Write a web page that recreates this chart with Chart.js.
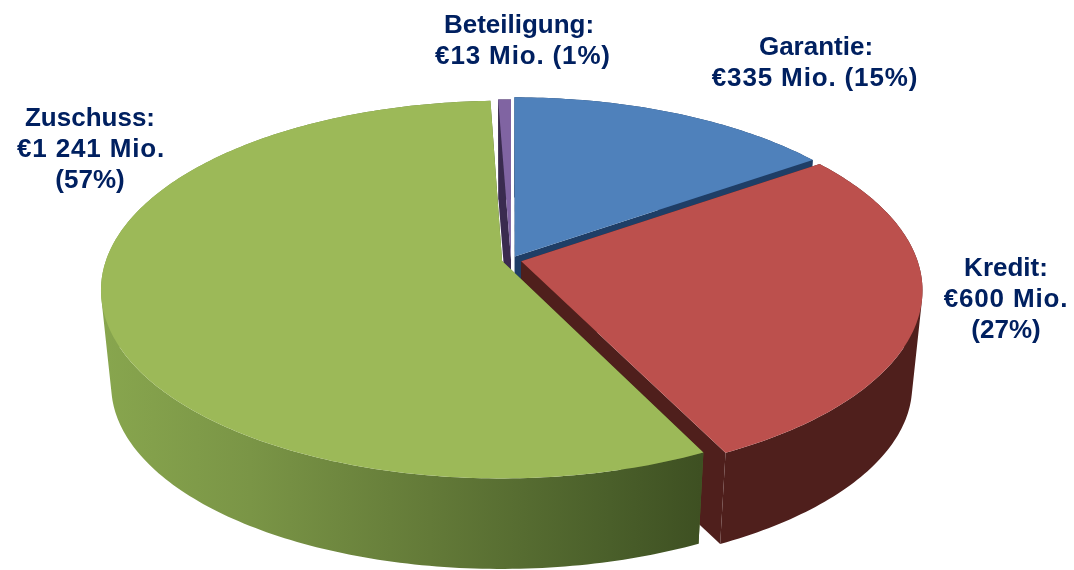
<!DOCTYPE html>
<html>
<head>
<meta charset="utf-8">
<title>Förderung</title>
<script src="https://cdn.jsdelivr.net/npm/chart.js@4"></script>
<style>
html,body{margin:0;padding:0;background:#fff}
canvas{display:block}
</style>
</head>
<body>
<canvas id="grafico" width="1074" height="570"></canvas>
<script>
let categorias = ["Garantie","Kredit","Zuschuss","Beteiligung"]
let valores = [335,600,1241,13]
let textoValor = ["€335 Mio. (15%)","€600 Mio.","€1 241 Mio.","€13 Mio. (1%)"]
let textoExtra = ["","(27%)","(57%)",""]

let cores = ["#4f81bb","#bc504d","#9cb958","#8064a2"]
let coresLado = ["#1f3e66","#4f1f1c","#4f6329","#3a2b4f"]
let afastar = [6,7.5,6.5,1]

// posicao dos textos: x do centro, baseline da primeira linha
let rotuloX = [816,1006,90,519]
let rotuloX2 = [815,1006,91,523]
let rotuloY = [55,276,126,33]
let linha = 31

// perspectiva do disco
let centroX = 511
let centroY = 260
let larguraDisco = 396
let alturaDisco = 184.2
let fuga = 0.151
let queda = 96
let encolhe = 0.975

function projetar(u,v,baixo){
  let d = 1 - fuga*v
  let x = larguraDisco*u/d
  let y = alturaDisco*v/d
  if(baixo){
    x = x*encolhe
    y = y*encolhe + queda
  }
  return [centroX+x, centroY+y]
}

function subcaminho(ctx,pts){
  pts.forEach((p,i)=>{
    if(i==0) ctx.moveTo(p[0],p[1])
    else ctx.lineTo(p[0],p[1])
  })
  ctx.closePath()
}

function caminho(ctx,pts){
  ctx.beginPath()
  subcaminho(ctx,pts)
}

function area(pts){
  let s = 0
  pts.forEach((p,i)=>{
    let q = pts[(i+1)%pts.length]
    s += p[0]*q[1]-q[0]*p[1]
  })
  return s
}

function desenharFatia(ctx,arco,i){
  let p = arco.getProps(["startAngle","endAngle","outerRadius"],true)
  let meio = (p.startAngle+p.endAngle)/2
  let dx = Math.cos(meio)*afastar[i]/p.outerRadius
  let dy = Math.sin(meio)*afastar[i]/p.outerRadius

  let cima = []
  let baixo = []
  let n = Math.max(2,Math.ceil((p.endAngle-p.startAngle)*60))
  for(let k=0;k<=n;k++){
    let a = p.startAngle+(p.endAngle-p.startAngle)*k/n
    cima.push(projetar(dx+Math.cos(a),dy+Math.sin(a),false))
    baixo.push(projetar(dx+Math.cos(a),dy+Math.sin(a),true))
  }
  let c0 = projetar(dx,dy,false)
  let c1 = projetar(dx,dy,true)

  // paredes retas
  ctx.fillStyle = coresLado[i]
  caminho(ctx,[c0,cima[0],baixo[0],c1])
  ctx.fill()
  caminho(ctx,[c0,cima[n],baixo[n],c1])
  ctx.fill()

  // parede externa: quadrilateros no mesmo sentido, num caminho so
  if(i==2){
    let g = ctx.createLinearGradient(100,0,700,0)
    g.addColorStop(0,"#88a64e")
    g.addColorStop(0.25,"#7a9546")
    g.addColorStop(0.55,"#637a38")
    g.addColorStop(0.85,"#4a5f2a")
    g.addColorStop(1,"#3e5022")
    ctx.fillStyle = g
  }
  ctx.beginPath()
  for(let k=0;k<n;k++){
    let q = [cima[k],cima[k+1],baixo[k+1],baixo[k]]
    if(area(q)<0) q.reverse()
    subcaminho(ctx,q)
  }
  ctx.fill()

  // tampa
  ctx.fillStyle = cores[i]
  caminho(ctx,[c0].concat(cima))
  ctx.fill()
}

let pizza3d = {
  id:"pizza3d",
  beforeDatasetsDraw(chart){
    let ctx = chart.ctx
    let arcos = chart.getDatasetMeta(0).data
    ctx.save()
    // de tras para frente
    ;[3,0,1,2].forEach(i=>desenharFatia(ctx,arcos[i],i))
    ctx.restore()
    return false
  },
  afterDraw(chart){
    let ctx = chart.ctx
    ctx.save()
    ctx.fillStyle = "#002060"
    ctx.font = "bold 26px 'Liberation Sans', Arial, sans-serif"
    ctx.textAlign = "center"
    ctx.textBaseline = "alphabetic"
    categorias.forEach((nome,i)=>{
      ctx.letterSpacing = "0px"
      ctx.fillText(nome+":",rotuloX[i],rotuloY[i])
      if(textoExtra[i]) ctx.fillText(textoExtra[i],rotuloX[i],rotuloY[i]+linha*2)
      // o euro da figura e mais largo
      ctx.letterSpacing = "0.85px"
      ctx.fillText(textoValor[i],rotuloX2[i],rotuloY[i]+linha)
    })
    ctx.restore()
  }
}

new Chart(document.getElementById("grafico"),{
  type:"pie",
  data:{
    labels:categorias,
    datasets:[{
      data:valores,
      backgroundColor:cores,
      offset:afastar,
      borderWidth:0
    }]
  },
  options:{
    responsive:false,
    animation:false,
    plugins:{
      legend:{display:false},
      tooltip:{enabled:false}
    }
  },
  plugins:[pizza3d]
})
</script>
</body>
</html>
